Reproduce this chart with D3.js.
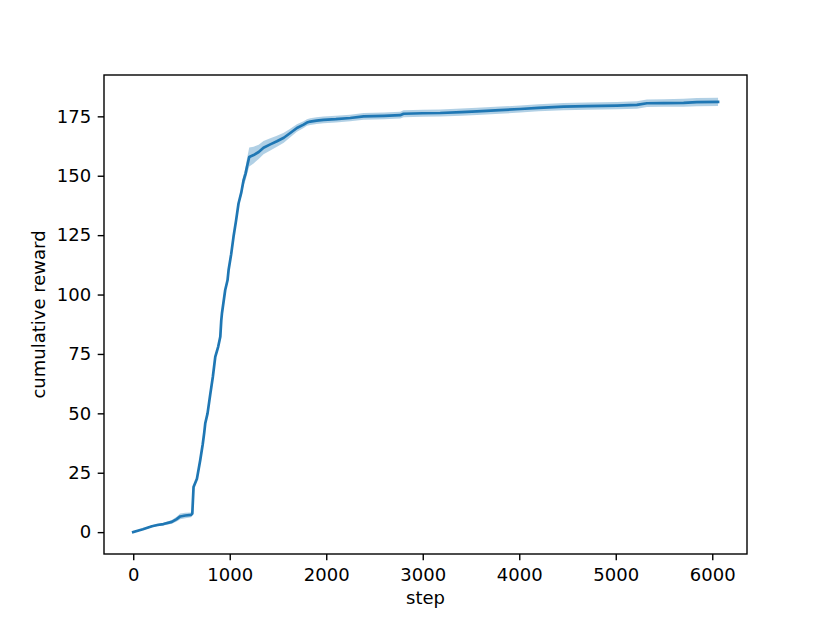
<!DOCTYPE html>
<html>
<head>
<meta charset="utf-8">
<script src="https://cdn.jsdelivr.net/npm/d3@7"></script>
<style>
  html, body { margin: 0; padding: 0; background: #fff; }
  svg { display: block; }
  text { font-family: "DejaVu Sans", sans-serif; }
</style>
</head>
<body>
<svg id="chart" width="830" height="623"></svg>
<script>
// ---- data ----
const steps = [0, 100, 194, 250, 313, 400, 450, 487, 540, 600, 612, 625, 660, 694, 720, 736, 746, 770, 798, 825, 850, 880, 902, 912, 919, 953, 977, 988, 1015, 1039, 1065, 1091, 1120, 1143, 1165, 1178, 1202, 1247, 1300, 1350, 1420, 1489, 1560, 1627, 1696, 1765, 1800, 1834, 1900, 1972, 2100, 2249, 2387, 2600, 2767, 2801, 3000, 3181, 3400, 3562, 3800, 4010, 4200, 4459, 4700, 5012, 5219, 5323, 5500, 5703, 5841, 6060];
const meanReward = [0, 1.2, 2.5, 3.0, 3.4, 4.3, 5.5, 6.6, 7.0, 7.3, 7.8, 19.0, 22.5, 30.3, 37.0, 42.0, 45.7, 50.0, 58.0, 65.4, 73.8, 78.0, 82.2, 89.0, 92.0, 101.9, 106.0, 110.3, 117.0, 124.3, 131.0, 138.3, 143.0, 148.1, 151.0, 153.7, 157.9, 158.7, 160.0, 161.8, 163.2, 164.5, 166.0, 168.0, 170.1, 171.5, 172.4, 172.8, 173.2, 173.5, 173.8, 174.3, 175.0, 175.2, 175.5, 176.1, 176.3, 176.4, 176.8, 177.1, 177.6, 178.1, 178.6, 179.1, 179.3, 179.5, 179.8, 180.5, 180.6, 180.7, 181.0, 181.1];
const bandHalfWidth = [0.3, 0.3, 0.4, 0.5, 0.6, 0.8, 1.0, 1.2, 1.2, 1.0, 0.8, 0.7, 0.7, 0.7, 0.7, 0.7, 0.7, 0.7, 0.7, 0.7, 0.8, 0.8, 0.8, 0.8, 0.8, 0.8, 0.8, 0.8, 0.9, 0.9, 0.9, 1.1, 1.6, 2.2, 2.8, 3.3, 4.0, 3.5, 3.0, 2.8, 2.6, 2.3, 2.1, 1.8, 1.6, 1.4, 1.4, 1.4, 1.4, 1.4, 1.4, 1.4, 1.4, 1.4, 1.4, 1.5, 1.5, 1.5, 1.5, 1.5, 1.5, 1.5, 1.5, 1.5, 1.5, 1.5, 1.6, 1.6, 1.6, 1.7, 1.7, 1.7];
const xTicks = [0, 1000, 2000, 3000, 4000, 5000, 6000];
const yTicks = [0, 25, 50, 75, 100, 125, 150, 175];
const xLabel = "step";
const yLabel = "cumulative reward";

const rows = steps.map((s, i) => ({
  step: s,
  mean: meanReward[i],
  lo: meanReward[i] - bandHalfWidth[i],
  hi: meanReward[i] + bandHalfWidth[i]
}));

// ---- layout ----
const W = 830, H = 623;
const mLeft = 104, mRight = 747, mTop = 75, mBottom = 554;
const fontPx = 18;

const x = d3.scaleLinear().domain([-303, 6360]).range([mLeft, mRight]);
const y = d3.scaleLinear().domain([-9.2, 192.4]).range([mBottom, mTop]);

const svg = d3.select("#chart");
const color = "#1f77b4";

svg.append("rect").attr("width", W).attr("height", H).attr("fill", "#fff");

// band
svg.append("path")
  .datum(rows)
  .attr("fill", color)
  .attr("fill-opacity", 0.35)
  .attr("stroke", "none")
  .attr("d", d3.area().x(d => x(d.step)).y0(d => y(d.lo)).y1(d => y(d.hi)));

// mean line
svg.append("path")
  .datum(rows)
  .attr("fill", "none")
  .attr("stroke", color)
  .attr("stroke-width", 2.7)
  .attr("stroke-linejoin", "round")
  .attr("stroke-linecap", "square")
  .attr("d", d3.line().x(d => x(d.step)).y(d => y(d.mean)));

// axes
const xAxis = svg.append("g")
  .attr("transform", `translate(0,${mBottom})`)
  .call(d3.axisBottom(x).tickValues(xTicks).tickFormat(d3.format("d")).tickSizeInner(6.3).tickSizeOuter(0).tickPadding(8));
const yAxis = svg.append("g")
  .attr("transform", `translate(${mLeft},0)`)
  .call(d3.axisLeft(y).tickValues(yTicks).tickFormat(d3.format("d")).tickSizeInner(6.3).tickSizeOuter(0).tickPadding(6.5));

[xAxis, yAxis].forEach(g => {
  g.select(".domain").remove();
  g.selectAll(".tick line").attr("stroke", "#000").attr("stroke-width", 1.4);
  g.selectAll(".tick text").attr("fill", "#000").style("font-size", fontPx + "px").style("font-family", "'DejaVu Sans', sans-serif");
});

// frame (spines)
svg.append("rect")
  .attr("x", mLeft).attr("y", mTop)
  .attr("width", mRight - mLeft).attr("height", mBottom - mTop)
  .attr("fill", "none").attr("stroke", "#000").attr("stroke-width", 1.4);

// axis labels
svg.append("text")
  .attr("x", (mLeft + mRight) / 2).attr("y", 604)
  .attr("text-anchor", "middle")
  .style("font-size", fontPx + "px")
  .text(xLabel);

svg.append("text")
  .attr("transform", `translate(45,${(mTop + mBottom) / 2}) rotate(-90)`)
  .attr("text-anchor", "middle")
  .style("font-size", fontPx + "px")
  .text(yLabel);
</script>
</body>
</html>
